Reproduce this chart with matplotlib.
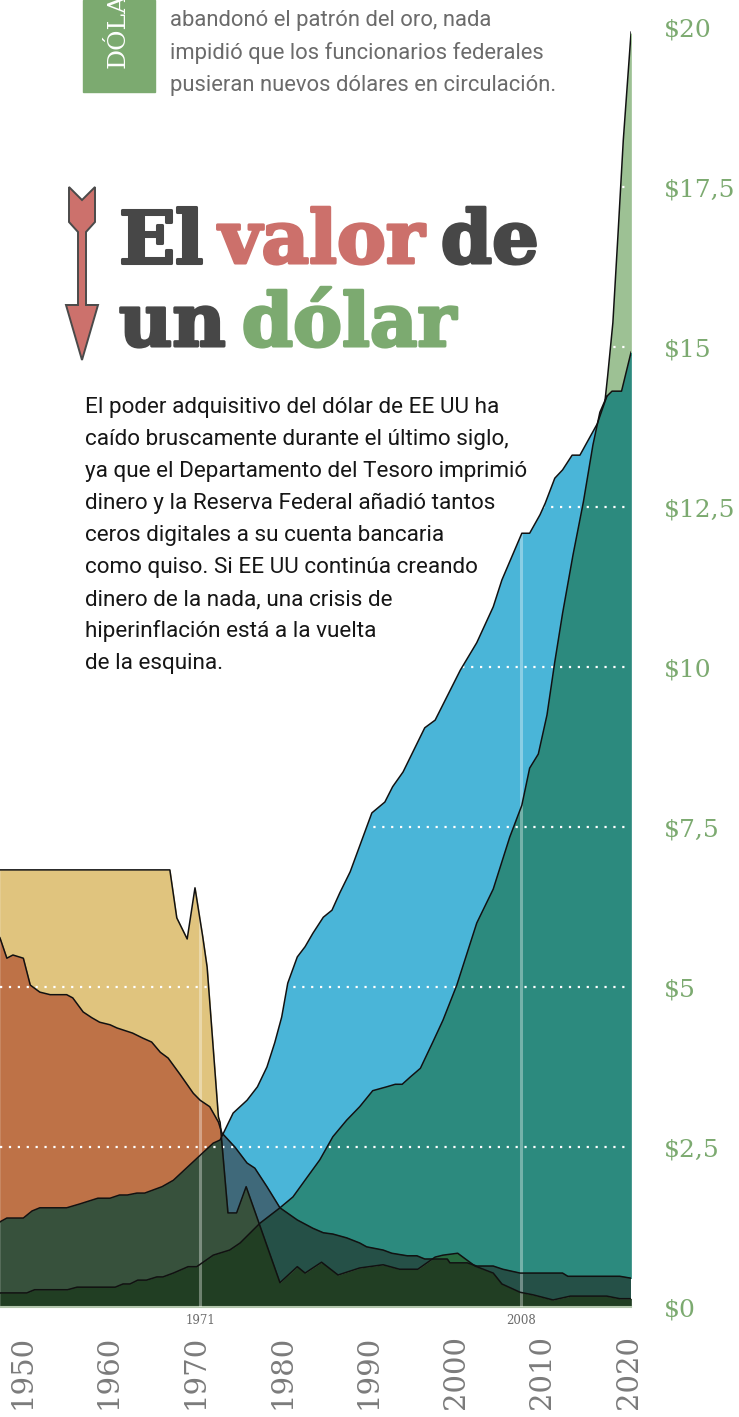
import numpy as np
import matplotlib
matplotlib.use("Agg")
import matplotlib.pyplot as plt
import matplotlib.patheffects as pe
from matplotlib.patches import Polygon, Rectangle
from matplotlib.colors import to_rgb
from matplotlib.transforms import ScaledTranslation
from itertools import product

W, H = 739, 1417

# ---- series (year, dollars) ----
tan_years = [1947.9, 1967.5, 1968.3, 1969.5, 1970.4, 1971.3, 1971.8, 1973.1, 1973.3, 1974.2,
             1975.2, 1976.3, 1980.2, 1982.2, 1983.1, 1985.0, 1986.9, 1989.4, 1992.1, 1994.0,
             1996.1, 1998.1, 1999.0, 2000.7, 2002.7, 2004.8, 2005.8, 2007.9, 2009.4, 2011.7,
             2013.7, 2017.9, 2019.4, 2020.7]
tan_values = [6.83, 6.83, 6.08, 5.75, 6.55, 5.78, 5.31, 2.97, 2.88, 1.47,
              1.47, 1.88, 0.38, 0.63, 0.53, 0.70, 0.50, 0.61, 0.66, 0.59,
              0.59, 0.78, 0.81, 0.84, 0.64, 0.53, 0.36, 0.23, 0.19, 0.11,
              0.17, 0.17, 0.13, 0.13]

pink_years = [1947.9, 1948.7, 1949.4, 1950.6, 1951.4, 1952.5, 1953.7, 1955.6, 1956.3, 1957.5,
              1958.5, 1959.4, 1960.6, 1961.4, 1963.2, 1964.4, 1965.4, 1966.4, 1967.3, 1968.7,
              1970.2, 1971.0, 1972.1, 1973.1, 1973.5, 1975.0, 1976.4, 1977.3, 1978.7, 1980.2,
              1982.2, 1984.0, 1985.2, 1986.3, 1987.9, 1989.4, 1990.2, 1992.1, 1993.1, 1994.9,
              1996.0, 1996.9, 1999.5, 1999.8, 2001.8, 2002.9, 2004.8, 2005.9, 2007.9, 2012.8,
              2013.4, 2019.4, 2020.7]
pink_values = [5.77, 5.45, 5.50, 5.45, 5.03, 4.92, 4.88, 4.88, 4.83, 4.61,
               4.52, 4.45, 4.41, 4.36, 4.28, 4.20, 4.14, 3.98, 3.89, 3.63,
               3.34, 3.23, 3.13, 2.89, 2.72, 2.50, 2.25, 2.17, 1.88, 1.55,
               1.36, 1.23, 1.16, 1.14, 1.08, 1.00, 0.94, 0.89, 0.84, 0.80,
               0.80, 0.75, 0.75, 0.69, 0.69, 0.64, 0.64, 0.59, 0.53, 0.53,
               0.48, 0.48, 0.45]

blue_years = [1947.9, 1948.7, 1950.6, 1951.6, 1952.5, 1955.6, 1957.1, 1959.2, 1960.6, 1961.7,
              1962.6, 1963.7, 1964.6, 1966.6, 1967.9, 1970.2, 1972.5, 1973.3, 1974.8, 1976.4,
              1977.6, 1978.7, 1979.6, 1980.4, 1981.1, 1982.2, 1983.1, 1984.0, 1985.2, 1986.2,
              1987.1, 1988.3, 1990.8, 1992.3, 1993.2, 1994.4, 1996.9, 1998.1, 2001.0, 2002.9,
              2004.8, 2005.8, 2008.1, 2009.0, 2010.2, 2010.8, 2011.9, 2012.8, 2013.9, 2014.8,
              2016.8, 2017.9]
blue_values = [1.33, 1.39, 1.39, 1.50, 1.55, 1.55, 1.61, 1.70, 1.70, 1.75,
               1.75, 1.78, 1.78, 1.88, 1.98, 2.27, 2.56, 2.61, 3.03, 3.23,
               3.44, 3.75, 4.13, 4.53, 5.06, 5.47, 5.63, 5.84, 6.09, 6.20,
               6.47, 6.80, 7.72, 7.89, 8.13, 8.36, 9.05, 9.17, 9.95, 10.38,
               10.94, 11.36, 12.09, 12.09, 12.38, 12.56, 12.95, 13.08, 13.31, 13.31,
               13.80, 14.23]

teal_years = [1947.9, 1951.0, 1951.9, 1955.7, 1956.8, 1961.2, 1962.1, 1962.9, 1963.8, 1964.8,
              1966.0, 1966.7, 1967.9, 1969.6, 1970.6, 1972.5, 1974.4, 1975.6, 1977.9, 1980.2,
              1981.7, 1983.3, 1984.8, 1986.3, 1987.9, 1989.4, 1990.9, 1992.5, 1993.5, 1994.3,
              1995.2, 1996.4, 1997.8, 1999.0, 2000.6, 2002.9, 2004.8, 2006.7, 2008.1, 2009.0,
              2010.0, 2011.0, 2011.9, 2012.8, 2014.0, 2015.2, 2016.3, 2017.1, 2017.9, 2018.5,
              2019.6, 2020.7]
teal_values = [0.22, 0.22, 0.27, 0.27, 0.31, 0.31, 0.36, 0.36, 0.42, 0.42,
               0.47, 0.47, 0.53, 0.63, 0.63, 0.81, 0.89, 1.00, 1.31, 1.55,
               1.72, 2.02, 2.30, 2.66, 2.92, 3.13, 3.38, 3.44, 3.48, 3.48,
               3.59, 3.73, 4.13, 4.48, 5.03, 6.00, 6.53, 7.34, 7.84, 8.42,
               8.64, 9.25, 10.08, 10.84, 11.75, 12.58, 13.47, 13.98, 14.23, 14.31,
               14.31, 14.92]

green_years = [2017.7, 2018.0, 2018.6, 2019.2, 2019.8, 2020.7]
green_values = [14.17, 14.55, 15.38, 16.78, 18.23, 19.92]

dollar_ticks = [0, 2.5, 5, 7.5, 10, 12.5, 15, 17.5, 20]
dollar_labels = ["\\$0", "\\$2,5", "\\$5", "\\$7,5", "\\$10", "\\$12,5", "\\$15", "\\$17,5", "\\$20"]
year_ticks = [1950, 1960, 1970, 1980, 1990, 2000, 2010, 2020]
marked_years = [1971, 2008]

colors = {"tan": "#E0C47E", "pink": "#D89490", "blue": "#4AB5D8",
          "teal": "#2C8A7E", "green": "#9DC194"}
label_green = "#7CAA70"
dark = "#474747"
red = "#CC706B"

fig = plt.figure(figsize=(W / 100, H / 100), dpi=100)
ax = fig.add_axes([0, 110 / H, 631 / W, 1307 / H])
ax.set_xlim(1947.91, 2020.69)
ax.set_ylim(0, 1307 / 64)

# areas overlap with a "multiply" look: colour every overlap region separately
grid = np.linspace(1947.91, 2020.69, 4000)
teal_f = np.interp(grid, teal_years, teal_values)
blue_f = np.interp(grid, blue_years, blue_values)
blue_f = np.where(grid > blue_years[-1], teal_f, blue_f)
green_f = np.interp(grid, green_years, green_values)
green_f = np.where(grid < green_years[0], teal_f, green_f)
curves = {
    "tan": np.interp(grid, tan_years, tan_values),
    "pink": np.interp(grid, pink_years, pink_values),
    "teal": teal_f,
    "blue": blue_f,
    "green": green_f,
}
names = list(curves)
for bits in product([0, 1], repeat=len(names)):
    inside = [n for n, b in zip(names, bits) if b]
    outside = [n for n, b in zip(names, bits) if not b]
    if not inside:
        continue
    hi = np.min([curves[n] for n in inside], axis=0)
    lo = np.max([curves[n] for n in outside], axis=0) if outside else np.zeros_like(grid)
    mask = hi > lo
    if not mask.any():
        continue
    c = np.ones(3)
    for n in inside:
        # blue and green only show above the teal area
        if n in ("blue", "green") and "teal" in inside:
            continue
        c *= np.array(to_rgb(colors[n]))
    ax.fill_between(grid, lo, hi, where=mask, interpolate=True, color=c, lw=0.5, zorder=1)

for y in dollar_ticks[1:-1]:
    ax.axhline(y, color="white", lw=1.6, ls=(0, (1, 3)), zorder=3)
for yr in marked_years:
    ax.axvline(yr, color="white", alpha=0.35, lw=2.2, zorder=3)

for xs, ys in [(tan_years, tan_values), (pink_years, pink_values), (blue_years, blue_values),
               (teal_years, teal_values), (green_years, green_values)]:
    ax.plot(xs, ys, color="#111111", lw=1.1, zorder=4)

for s in ["top", "left", "right"]:
    ax.spines[s].set_visible(False)
ax.spines["bottom"].set_color("#b3c6ad")
ax.spines["bottom"].set_linewidth(1.5)
ax.set_facecolor("none")

ax.yaxis.tick_right()
ax.set_yticks(dollar_ticks)
ax.set_yticklabels(dollar_labels, fontfamily="DejaVu Serif")
ax.tick_params(axis="y", length=0, pad=24, labelsize=18, labelcolor=label_green)
ax.set_xticks(year_ticks)
ax.set_xticklabels([str(y) for y in year_ticks], rotation=90, fontfamily="DejaVu Serif")
ax.tick_params(axis="x", length=0, pad=20, labelsize=21, labelcolor="#7b7b7b")
for lbl in ax.get_xticklabels():
    lbl.set_transform(lbl.get_transform() + ScaledTranslation(4 / 100, 0, fig.dpi_scale_trans))

for yr in marked_years:
    ax.text(yr, -13 / 1307, str(yr), transform=ax.get_xaxis_transform(), ha="center",
            va="center", fontsize=8.5, color="#6a6a6a", family="DejaVu Serif")

# ---- text block ----
renderer = fig.canvas.get_renderer()


def width_px(s, **kw):
    t = fig.text(0, 0, s, **kw)
    w = t.get_window_extent(renderer).width
    t.remove()
    return w


sans = "Roboto"
top_lines = ["abandonó el patrón del oro, nada",
             "impidió que los funcionarios federales",
             "pusieran nuevos dólares en circulación."]
body_lines = ["El poder adquisitivo del dólar de EE UU ha",
              "caído bruscamente durante el último siglo,",
              "ya que el Departamento del Tesoro imprimió",
              "dinero y la Reserva Federal añadió tantos",
              "ceros digitales a su cuenta bancaria",
              "como quiso. Si EE UU continúa creando",
              "dinero de la nada, una crisis de",
              "hiperinflación está a la vuelta",
              "de la esquina."]

fs_top = 15 * 374 / width_px(top_lines[1], fontsize=15, family=sans)
fs_body = 15 * 443 / width_px(body_lines[2], fontsize=15, family=sans)

for i, line in enumerate(top_lines):
    fig.text(170 / W, 1 - (26 + 32.5 * i) / H, line, fontsize=fs_top, color="#6b6b6b",
             family=sans, va="baseline")
for i, line in enumerate(body_lines):
    fig.text(85 / W, 1 - (413 + 32 * i) / H, line, fontsize=fs_body, color="#161616",
             family=sans, va="baseline")

# green tab (its label runs off the top edge, as in the original)
fig.patches.append(Rectangle((83 / W, 1 - 92 / H), 72 / W, 92 / H, transform=fig.transFigure,
                             color=label_green, zorder=1))
fig.text(118 / W, 1 - 68 / H, "DÓLAR", rotation=90, color="white", fontsize=18,
         family="DejaVu Serif", ha="center", va="bottom")

# title, thickened with a stroke of its own colour
title_font = dict(family="DejaVu Serif", weight="bold")
line1 = [("El", dark), ("valor", red), ("de", dark)]
line2 = [("un", dark), ("dólar", label_green)]
w50 = sum(width_px(w, fontsize=50, **title_font) for w, _ in line1) + 2 * 0.22 * 50 * 100 / 72
fs_title = 50 * 420 / w50


def word_row(x, y, words):
    gap = 0.22 * fs_title * 100 / 72
    for w, col in words:
        fig.text(x / W, 1 - y / H, w, fontsize=fs_title, color=col, va="baseline",
                 path_effects=[pe.withStroke(linewidth=2.2, foreground=col)], **title_font)
        x += width_px(w, fontsize=fs_title, **title_font) + gap


word_row(119, 263, line1)
word_row(119, 346, line2)

# arrow
arrow = [(69, 187), (82, 200), (95, 187), (95, 222), (86, 232), (86, 305), (98, 305),
         (82, 360), (66, 305), (78, 305), (78, 232), (69, 222)]
fig.patches.append(Polygon([(x / W, 1 - y / H) for x, y in arrow], closed=True,
                           transform=fig.transFigure, facecolor="#CC716C",
                           edgecolor="#4a4a4a", lw=1.4, zorder=2))

fig.savefig("out.png", dpi=100)
